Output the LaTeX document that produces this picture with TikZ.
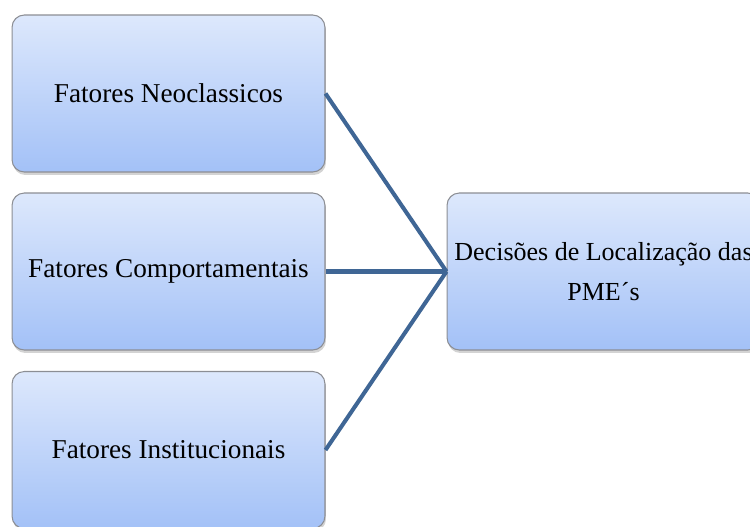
\documentclass[tikz,border=0pt]{standalone}
\usepackage{fontspec}
\setmainfont{Liberation Serif}
\usepackage{tikz}
\usetikzlibrary{positioning, shadows}
\definecolor{boxtop}{RGB}{221,232,252}
\definecolor{boxbottom}{RGB}{163,193,247}
\definecolor{boxborder}{RGB}{140,142,148}
\definecolor{linkblue}{RGB}{63,102,149}
\tikzset{
  fator/.style={
    rectangle, rounded corners=7pt, minimum width=6.26cm, minimum height=3.14cm,
    draw=boxborder, line width=0.6pt, top color=boxtop, bottom color=boxbottom,
    drop shadow={opacity=0.35, shadow xshift=0.02cm, shadow yshift=-0.06cm},
    align=center, font=\fontsize{15.5}{23}\selectfont, text=black
  },
  link/.style={line width=2.3pt, color=linkblue}
}
\begin{document}
\begin{tikzpicture}[x=0.02cm, y=-0.02cm]
  \clip (0,0) rectangle (750,527);
  % ── Fatores ──────────────────────────────────────────────────────
  \node[fator] (neo)  at (168.5, 93.5)  {Fatores Neoclassicos};
  \node[fator] (comp) at (168.5, 271.5) {Fatores Comportamentais};
  \node[fator] (inst) at (168.5, 450)   {Fatores Institucionais};

  % ── Decisão ──────────────────────────────────────────────────────
  \node[fator, font=\fontsize{14.8}{23}\selectfont] (decisao) at (603.5, 271.5)
    {Decisões de Localização das\\PME´s};

  % ── Connections ──────────────────────────────────────────────────
  \draw[link] (neo.east)  -- (decisao.west);
  \draw[link] (comp.east) -- (decisao.west);
  \draw[link] (inst.east) -- (decisao.west);
\end{tikzpicture}
\end{document}
